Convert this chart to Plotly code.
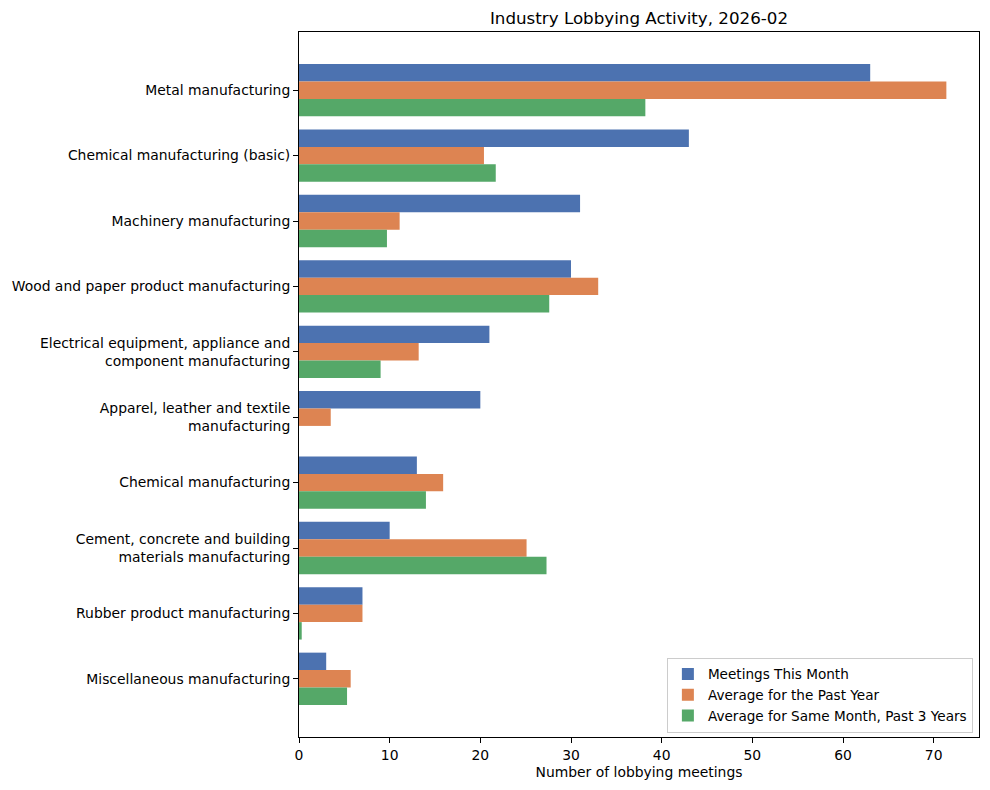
import plotly.graph_objects as go

categories = [
    "Metal manufacturing",
    "Chemical manufacturing (basic)",
    "Machinery manufacturing",
    "Wood and paper product manufacturing",
    "Electrical equipment, appliance and<br>component manufacturing",
    "Apparel, leather and textile<br>manufacturing",
    "Chemical manufacturing",
    "Cement, concrete and building<br>materials manufacturing",
    "Rubber product manufacturing",
    "Miscellaneous manufacturing",
]
meetings_this_month = [63, 43, 31, 30, 21, 20, 13, 10, 7, 3]
avg_past_year = [71.4, 20.4, 11.1, 33.0, 13.2, 3.5, 15.9, 25.1, 7.0, 5.7]
avg_same_month_3y = [38.2, 21.7, 9.7, 27.6, 9.0, 0.0, 14.0, 27.3, 0.3, 5.3]

series_names = ["Meetings This Month", "Average for the Past Year",
                "Average for Same Month, Past 3 Years"]
colors = ["#4C72B0", "#DD8452", "#55A868"]

font = "DejaVu Sans"
fig = go.Figure()
for name, vals, col in zip(series_names,
                           [meetings_this_month, avg_past_year, avg_same_month_3y],
                           colors):
    fig.add_trace(go.Bar(y=categories, x=vals, name=name, orientation="h",
                         marker=dict(color=col, line=dict(width=0))))

fig.update_layout(
    width=990, height=790,
    margin=dict(l=299, r=11, t=32, b=53),
    paper_bgcolor="white", plot_bgcolor="white",
    barmode="group", bargap=0.2, bargroupgap=0,
    font=dict(family=font, size=13.9, color="black"),
    title=dict(text="Industry Lobbying Activity, 2026-02", x=0.5, xref="paper",
               y=1 - 18 / 790, yref="container", xanchor="center", yanchor="middle",
               font=dict(size=16.7, family=font, color="black")),
    legend=dict(x=0.991, y=0.006, xanchor="right", yanchor="bottom",
                bordercolor="#cccccc", borderwidth=1, bgcolor="rgba(255,255,255,0.8)",
                font=dict(size=13.6, family=font), traceorder="normal"),
    showlegend=True,
)
fig.update_xaxes(range=[0, 75], tickmode="array", tickvals=list(range(0, 80, 10)),
                 showline=True, mirror=True, linecolor="black", linewidth=1,
                 ticks="outside", ticklen=5, tickcolor="black", showgrid=False,
                 zeroline=False,
                 title=dict(text="Number of lobbying meetings", standoff=5,
                            font=dict(size=13.9, family=font)))
fig.update_yaxes(type="category", range=[9.89, -0.89],
                 showline=True, mirror=True, linecolor="black", linewidth=1,
                 ticks="outside", ticklen=5, tickcolor="black", showgrid=False,
                 zeroline=False)

fig.write_html("out.html")
